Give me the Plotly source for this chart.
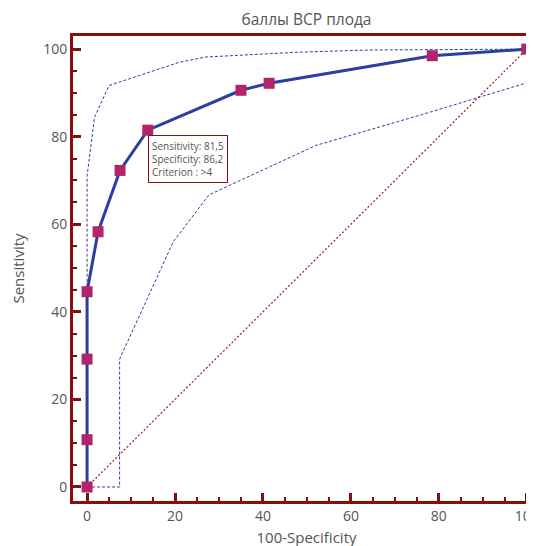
import plotly.graph_objects as go

# ROC points (100-Specificity, Sensitivity)
roc_x = [0, 0, 0, 0, 2.5, 7.5, 13.8, 35.0, 41.4, 78.5, 100]
roc_y = [0, 10.8, 29.2, 44.6, 58.3, 72.3, 81.5, 90.6, 92.2, 98.5, 100]

# confidence bounds
upper_x = [0, 0, 1.7, 5.0, 21.0, 27.0, 48.0, 64.0, 100]
upper_y = [44.6, 71.0, 84.5, 91.7, 97.0, 98.2, 99.3, 99.8, 100]
lower_x = [0, 7.4, 7.4, 19.6, 27.7, 52.0, 76.0, 100, 100]
lower_y = [0, 0, 29.2, 56.0, 66.7, 78.0, 85.0, 92.3, 100]

diag_x = [0, 100]
diag_y = [0, 100]

title = "баллы ВСР плода"
x_title = "100-Specificity"
y_title = "Sensitivity"
tip_lines = ["Sensitivity: 81,5", "Specificity: 86,2", "Criterion : >4"]
tip_point = (13.8, 81.5)

DARK_RED = "#8a0d0d"
BLUE = "#2b3f9e"
MAGENTA = "#b3246b"
TEXT = "#555555"
FONT = "Open Sans"

fig = go.Figure()
fig.add_trace(go.Scatter(x=diag_x, y=diag_y, mode="lines",
                         line=dict(color="#a01820", width=1.2, dash="2px,2px"),
                         hoverinfo="skip"))
fig.add_trace(go.Scatter(x=upper_x, y=upper_y, mode="lines",
                         line=dict(color=BLUE, width=1, dash="3px,2px"),
                         hoverinfo="skip"))
fig.add_trace(go.Scatter(x=lower_x, y=lower_y, mode="lines",
                         line=dict(color=BLUE, width=1, dash="3px,2px"),
                         hoverinfo="skip"))
fig.add_trace(go.Scatter(x=roc_x, y=roc_y, mode="lines+markers",
                         line=dict(color=BLUE, width=3),
                         marker=dict(symbol="square", size=11, color=MAGENTA,
                                     line=dict(width=0))))

fig.add_annotation(x=tip_point[0], y=tip_point[1], xref="x", yref="y",
                   text="<br>".join(tip_lines), showarrow=False,
                   xanchor="left", yanchor="top", xshift=0, yshift=-5,
                   align="left", bgcolor="white", bordercolor=DARK_RED,
                   borderwidth=1, borderpad=3,
                   font=dict(family=FONT, size=10, color=TEXT))

axis_common = dict(
    showline=True, linecolor=DARK_RED, linewidth=3,
    ticks="inside", tickcolor=DARK_RED, ticklen=8, tickwidth=3,
    showgrid=False, zeroline=False, automargin=False,
    tickmode="array", tickvals=[0, 20, 40, 60, 80, 100],
    tickfont=dict(family=FONT, size=14, color=TEXT),
    minor=dict(ticks="inside", ticklen=4, tickwidth=2, tickcolor=DARK_RED,
               tickmode="array", tickvals=[v for v in range(5, 100, 5) if v % 20]),
)

fig.update_layout(
    width=534, height=546,
    margin=dict(l=65, r=2, t=28, b=53, autoexpand=False),
    plot_bgcolor="white", paper_bgcolor="white",
    showlegend=False,
    title=dict(text=title, x=0.5, xref="paper", y=0.978, yanchor="middle",
               font=dict(family=FONT, size=15.5, color=TEXT)),
    xaxis=dict(range=[-3.2, 103], mirror=True,
               title=dict(text=x_title, standoff=9,
                          font=dict(family=FONT, size=15, color=TEXT)),
               **axis_common),
    yaxis=dict(range=[-3.2, 103],
               title=dict(text=y_title, standoff=19,
                          font=dict(family=FONT, size=15, color=TEXT)),
               **axis_common),
)

fig.write_html("out.html")
